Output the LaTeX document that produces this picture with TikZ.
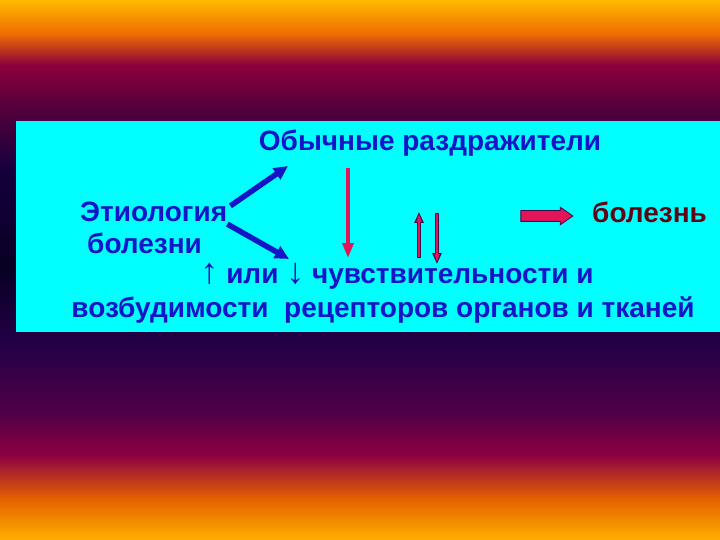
\documentclass[tikz,border=0pt]{standalone}
\usepackage{fontspec}
\setmainfont{Liberation Sans}
\usetikzlibrary{arrows.meta,shapes.arrows}

\definecolor{gold}{RGB}{255,185,0}
\definecolor{orng}{RGB}{240,110,0}
\definecolor{crim}{RGB}{140,0,60}
\definecolor{plum}{RGB}{90,0,60}
\definecolor{navy}{RGB}{20,0,60}
\definecolor{night}{RGB}{8,0,35}
\definecolor{dusk}{RGB}{35,0,70}
\definecolor{wine}{RGB}{80,0,70}
\definecolor{berry}{RGB}{140,0,65}
\definecolor{amber}{RGB}{230,100,0}
\definecolor{goldb}{RGB}{255,175,0}
\definecolor{panel}{RGB}{0,255,255}
\definecolor{ink}{RGB}{20,20,200}
\definecolor{pinkred}{RGB}{228,20,90}
\definecolor{edge}{RGB}{60,10,70}
\definecolor{maroon}{RGB}{95,5,20}

\pgfdeclareverticalshading{sky}{100bp}{color(0bp)=(goldb); color(25bp)=(goldb);
  color(28.7bp)=(amber); color(32.9bp)=(berry); color(36.8bp)=(wine);
  color(43.2bp)=(dusk); color(50.2bp)=(night); color(59.1bp)=(navy);
  color(65.5bp)=(plum); color(69bp)=(crim); color(71.9bp)=(orng);
  color(75bp)=(gold); color(100bp)=(gold)}

\newcommand{\symarr}[1]{{\fontsize{36}{32}\selectfont\mdseries #1}}

\tikzset{
  txt/.style={font=\fontsize{28}{32}\selectfont\bfseries, text=ink, inner sep=0pt},
  bluearr/.style={ink, line width=5.5pt, -{Triangle[length=14pt,width=13pt]}},
  redarr/.style={pinkred, line width=3.5pt, -{Triangle[length=15pt,width=11pt]}},
  thinout/.style={edge, line width=4pt, -{Triangle[length=11pt,width=9pt]}},
  thinin/.style={pinkred, line width=1.6pt, -{Triangle[length=8pt,width=5pt]}}
}

\begin{document}
\begin{tikzpicture}[x=1pt, y=-1pt]
  \useasboundingbox (0,0) rectangle (720,540);
  \shade[shading=sky] (0,0) rectangle (720,540);
  \fill[panel] (16,121) rectangle (720,332);

  % texts
  \node[txt] (stim) at (430,143) {Обычные раздражители};
  \node[txt, anchor=west] (etio) at (80,212) {Этиология};
  \node[txt, anchor=west] (dis) at (87,243) {болезни};
  \node[txt, text=maroon, anchor=west] (ill) at (592,212) {болезнь};
  \node[txt, anchor=base] (sens) at (397,283) {\symarr{↑} или \symarr{↓} чувствительности и};
  \node[txt] (recp) at (383,310) {возбудимости\ \ рецепторов органов и тканей};

  % arrow ends
  \coordinate (up) at (288,166);
  \coordinate (dn) at (289,259);
  \coordinate (rtop) at (348,168);
  \coordinate (rbot) at (348,258);

  \draw[bluearr] (etio.north east) ++(3,4) -- (up);
  \draw[bluearr] (etio.south east) ++(0,2) -- (dn);
  \draw[redarr] (rtop) -- (rbot);

  % paired thin arrows
  \draw[thinout] (419,258) -- (419,212);
  \draw[thinin] (419,257) -- (419,214);
  \draw[thinout] (437,213) -- (437,264);
  \draw[thinin] (437,214) -- (437,262);

  \node[single arrow, draw=edge, fill=pinkred, line width=0.8pt, inner sep=5pt,
    minimum width=17pt, minimum height=52pt, single arrow head extend=3.5pt,
    single arrow tip angle=70] (blk) at (543,216) {};
\end{tikzpicture}
\end{document}
